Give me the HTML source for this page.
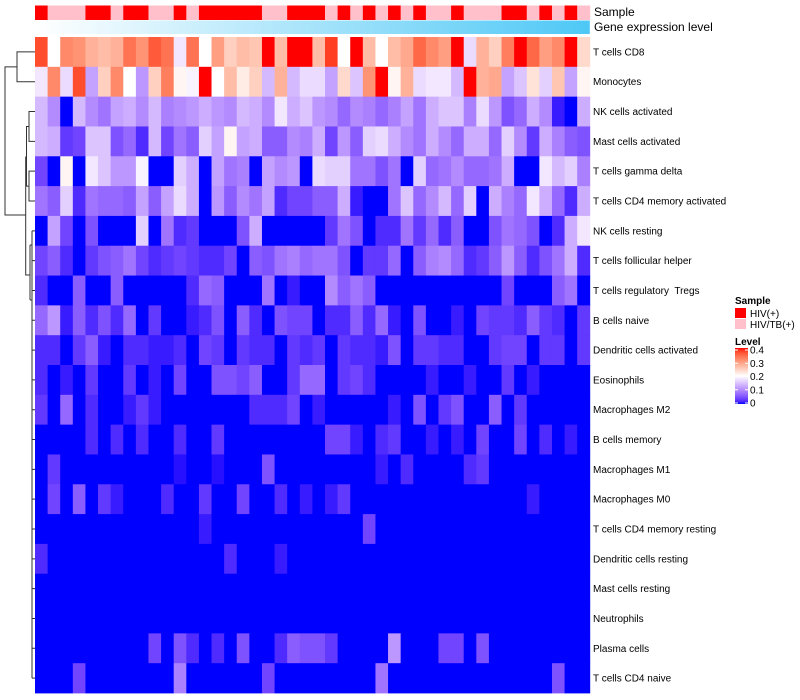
<!DOCTYPE html>
<html><head><meta charset="utf-8"><style>
body{margin:0;background:#fff;}
svg{display:block;font-family:"Liberation Sans",Arial,sans-serif;}
#labels text{white-space:pre;}
</style></head><body>
<svg id="chart" width="800" height="700" viewBox="0 0 800 700">
<defs>
<linearGradient id="geneGrad" x1="0" x2="1" y1="0" y2="0"><stop offset="0" stop-color="#ffffff"/><stop offset="1" stop-color="#4ec8f6"/></linearGradient>
<linearGradient id="levelGrad" x1="0" x2="0" y1="1" y2="0"></linearGradient>
</defs>
<g id="annot"></g>
<g id="cells"></g>
<g id="dendro" stroke="#333" stroke-width="1" fill="none"></g>
<g id="labels"></g>
<text x="594" y="16" font-size="12">Sample</text>
<text x="594" y="31" font-size="12">Gene expression level</text>
<g>
<text x="735" y="304" font-size="10" font-weight="bold">Sample</text>
<rect x="735" y="308" width="11" height="10" fill="#ff0000"/>
<text x="750" y="317" font-size="10">HIV(+)</text>
<rect x="735" y="319" width="11" height="10" fill="#ffc0cb"/>
<text x="750" y="328" font-size="10">HIV/TB(+)</text>
<text x="735" y="345" font-size="10" font-weight="bold">Level</text>
<rect x="735" y="348" width="13" height="56" fill="url(#levelGrad)"/>
<g id="levelTicks"></g>
</g>
</svg>
<script>
const rowNames=["T cells CD8","Monocytes","NK cells activated","Mast cells activated","T cells gamma delta","T cells CD4 memory activated","NK cells resting","T cells follicular helper","T cells regulatory  Tregs","B cells naive","Dendritic cells activated","Eosinophils","Macrophages M2","B cells memory","Macrophages M1","Macrophages M0","T cells CD4 memory resting","Dendritic cells resting","Mast cells resting","Neutrophils","Plasma cells","T cells CD4 naive"];
const sampleGroups="HTTTHHTHHTTHTHHHHHTTHHHTHTHTHTHTTHTTTHHTHTHT".split("");
const levelTicks=[0,0.1,0.2,0.3,0.4];
const r0=[0.37,0.2,0.32,0.31,0.28,0.27,0.28,0.34,0.31,0.36,0.34,0.18,0.34,0.2,0.3,0.25,0.27,0.26,0.4,0.27,0.4,0.4,0.27,0.38,0.2,0.4,0.27,0.2,0.27,0.29,0.35,0.32,0.3,0.4,0.17,0.28,0.25,0.33,0.4,0.35,0.3,0.32,0.4,0.24];
const r1=[0.18,0.32,0.17,0.37,0.12,0.25,0.32,0.2,0.11,0.25,0.33,0.21,0.19,0.4,0.2,0.27,0.22,0.25,0.14,0.28,0.14,0.17,0.17,0.12,0.24,0.15,0.31,0.4,0.21,0.28,0.17,0.18,0.18,0.14,0.4,0.28,0.29,0.12,0.15,0.23,0.16,0.26,0.12,0.21];
const r2=[0.14,0.1,0,0.14,0.1,0.08,0.12,0.13,0.1,0.14,0.09,0.1,0.11,0.13,0.11,0.1,0.14,0.13,0.1,0.18,0.13,0.15,0.11,0.1,0.07,0.1,0.09,0.07,0.09,0.12,0.08,0.13,0.15,0.15,0.09,0.17,0.11,0.05,0.07,0.13,0.1,0.01,0,0.13];
const r3=[0.14,0.13,0.03,0.04,0.15,0.15,0.05,0.07,0.02,0.14,0.04,0.08,0.06,0.16,0.12,0.21,0.12,0.13,0.06,0.06,0.1,0.09,0.13,0.04,0.11,0.06,0.16,0.17,0.13,0.1,0.08,0.13,0.1,0.07,0.13,0.13,0.07,0.16,0.1,0.03,0.13,0.09,0.06,0.05];
const r4=[0.04,0,0.21,0,0.18,0.15,0.11,0.11,0.19,0,0,0.16,0.13,0,0.12,0.08,0.09,0,0.12,0.1,0.11,0,0.17,0.16,0.16,0.08,0.08,0.05,0.08,0,0.16,0.07,0.08,0.1,0.07,0.07,0.08,0.13,0,0,0.18,0.14,0.16,0.09];
const r5=[0.08,0.06,0.16,0.02,0.08,0.07,0.07,0.06,0.12,0.06,0.12,0.17,0.13,0,0.11,0.06,0.1,0.08,0.12,0.02,0.04,0.04,0.06,0.06,0.13,0.01,0,0,0.08,0.15,0.07,0.1,0.14,0.07,0.16,0,0.13,0.09,0.07,0.18,0.13,0.07,0.02,0.13];
const r6=[0,0.12,0.04,0,0.05,0,0,0,0.16,0,0.08,0.02,0.03,0,0,0,0.05,0.13,0,0,0,0,0,0.03,0.08,0.05,0,0.02,0.02,0.08,0.03,0.07,0.02,0.06,0,0,0.05,0.08,0.07,0.05,0,0.02,0.13,0.18];
const r7=[0.04,0.06,0.02,0,0.03,0.05,0.06,0.08,0.04,0.02,0.03,0.04,0.03,0.02,0.02,0.04,0,0.06,0.05,0.08,0.09,0.07,0.08,0.08,0.05,0,0.03,0.03,0.07,0,0.06,0.09,0.1,0.07,0.02,0.03,0.06,0.11,0.06,0.02,0.05,0.08,0.13,0.02];
const r8=[0.02,0,0,0.06,0,0,0.06,0,0,0,0,0,0.02,0.07,0.06,0,0,0,0.08,0,0.01,0,0,0.1,0.06,0.08,0.06,0,0,0,0,0,0,0,0,0,0,0.04,0,0,0,0.06,0.08,0];
const r9=[0.07,0.11,0.01,0.06,0.02,0.05,0.02,0.07,0,0.03,0,0,0.01,0.02,0.05,0,0.06,0.02,0,0.05,0.04,0.04,0,0.02,0.02,0.06,0.02,0.07,0.01,0,0.05,0,0,0.01,0,0.04,0.03,0.03,0.02,0.06,0.03,0.02,0,0.03];
const r10=[0.02,0.02,0,0.03,0.06,0.01,0,0.02,0.02,0.01,0.01,0.02,0,0.04,0.03,0,0.03,0.02,0.02,0,0.03,0.02,0.03,0,0.03,0.02,0.02,0.01,0.05,0,0.03,0.03,0.02,0.02,0,0,0.03,0.04,0.04,0,0.03,0.03,0,0.03];
const r11=[0.02,0,0.01,0,0.03,0,0,0.03,0,0.01,0,0.04,0,0,0.05,0.05,0.04,0.06,0,0,0.03,0.07,0.07,0,0.03,0.04,0.02,0,0,0,0,0.01,0,0,0.01,0,0,0.03,0,0.01,0,0,0,0];
const r12=[0.03,0,0.07,0,0.02,0,0,0.01,0.03,0.01,0,0,0,0,0,0,0,0.02,0.02,0.02,0.04,0,0.01,0,0,0,0,0,0.01,0,0.05,0,0.03,0.05,0,0,0.06,0,0.03,0,0,0,0,0];
const r13=[0,0,0,0,0.02,0,0.02,0,0.02,0,0,0.02,0,0,0.03,0,0,0,0,0,0,0,0,0.04,0.04,0.01,0,0.02,0.03,0,0,0.01,0,0.01,0,0.04,0,0,0.04,0,0.02,0,0.01,0];
const r14=[0,0.03,0,0,0,0,0,0,0,0,0,0.005,0,0,0.005,0,0,0,0.05,0,0,0,0,0,0,0,0,0.01,0,0.02,0,0,0,0,0.02,0.03,0,0,0,0,0,0,0,0];
const r15=[0,0.04,0,0.06,0,0.03,0.01,0,0,0,0.02,0,0,0.03,0,0,0.04,0,0,0.02,0,0.01,0,0.01,0.03,0,0,0,0,0,0,0,0,0,0,0,0,0,0,0.01,0,0,0,0];
const r16=[0,0,0,0,0,0,0,0,0,0,0,0,0,0.01,0,0,0,0,0,0,0,0,0,0,0,0,0.04,0,0,0,0,0,0,0,0,0,0,0,0,0,0,0,0,0];
const r17=[0.02,0,0,0,0,0,0,0,0,0,0,0,0,0,0,0.02,0,0,0,0.01,0,0,0,0,0,0,0,0,0,0,0,0,0,0,0,0,0,0,0,0,0,0,0,0];
const r18=[0,0,0,0,0,0,0,0,0,0,0,0,0,0,0,0,0,0,0,0,0,0,0,0,0,0,0,0,0,0,0,0,0,0,0,0,0,0,0,0,0,0,0,0];
const r19=[0,0,0,0,0,0,0,0,0,0,0,0,0,0,0,0,0,0,0,0,0,0,0,0,0,0,0,0,0,0,0,0,0,0,0,0,0,0,0,0,0,0,0,0];
const r20=[0,0,0,0,0,0,0,0,0,0.04,0,0.05,0.02,0,0.02,0,0.05,0,0,0.02,0.06,0.05,0.05,0.03,0,0,0,0,0.11,0,0,0,0.04,0.04,0,0.05,0,0,0,0,0,0,0,0];
const r21=[0,0,0,0.04,0,0,0,0,0,0,0,0.09,0,0,0,0,0,0,0.04,0,0,0,0,0,0,0,0,0.08,0,0,0,0,0,0,0,0,0,0,0,0,0,0.05,0,0];
const matrix=[r0,r1,r2,r3,r4,r5,r6,r7,r8,r9,r10,r11,r12,r13,r14,r15,r16,r17,r18,r19,r20,r21];

const NS="http://www.w3.org/2000/svg";
const X0=35,X1=589.8,Y0=37,Y1=693;
const nCol=matrix[0].length,nRow=matrix.length;
const cw=(X1-X0)/nCol,rh=(Y1-Y0)/nRow;
const xPos=i=>X0+i*cw, yPos=j=>Y0+j*rh;

function toLin(c){c/=255;return c<=0.04045?c/12.92:Math.pow((c+0.055)/1.055,2.4);}
function fromLin(c){c=c<=0.0031308?12.92*c:1.055*Math.pow(c,1/2.4)-0.055;return Math.max(0,Math.min(255,Math.round(c*255)));}
function rgb2lab(r,g,b){r=toLin(r);g=toLin(g);b=toLin(b);
 let x=(0.4124*r+0.3576*g+0.1805*b)/0.95047,y=0.2126*r+0.7152*g+0.0722*b,z=(0.0193*r+0.1192*g+0.9505*b)/1.08883;
 const f=t=>t>0.008856?Math.cbrt(t):7.787*t+16/116;x=f(x);y=f(y);z=f(z);return [116*y-16,500*(x-y),200*(y-z)];}
function lab2rgb(L,a,bb){let y=(L+16)/116,x=a/500+y,z=y-bb/200;
 const fi=t=>t*t*t>0.008856?t*t*t:(t-16/116)/7.787;x=fi(x)*0.95047;y=fi(y);z=fi(z)*1.08883;
 const r=3.2406*x-1.5372*y-0.4986*z,g=-0.9689*x+1.8758*y+0.0415*z,b=0.0557*x-0.2040*y+1.0570*z;
 return "rgb("+fromLin(r)+","+fromLin(g)+","+fromLin(b)+")";}
const cBlue=rgb2lab(0,0,255),cWhite=rgb2lab(255,255,255),cRed=rgb2lab(255,0,0);
function colorOf(v){v=Math.max(0,Math.min(0.4,v));let a,b,t;
 if(v<=0.2){a=cBlue;b=cWhite;t=v/0.2;}else{a=cWhite;b=cRed;t=(v-0.2)/0.2;}
 return lab2rgb(a[0]+(b[0]-a[0])*t,a[1]+(b[1]-a[1])*t,a[2]+(b[2]-a[2])*t);}

const cells=document.getElementById("cells");
matrix.forEach((row,j)=>row.forEach((v,i)=>{
 const r=document.createElementNS(NS,"rect");
 r.setAttribute("x",xPos(i));r.setAttribute("y",yPos(j));
 r.setAttribute("width",cw+0.4);r.setAttribute("height",rh+0.4);
 r.setAttribute("fill",colorOf(v));
 
 
 cells.appendChild(r);
}));

const annot=document.getElementById("annot");
sampleGroups.forEach((g,i)=>{
 const r=document.createElementNS(NS,"rect");
 r.setAttribute("x",xPos(i));r.setAttribute("y",5.5);
 r.setAttribute("width",cw+0.4);r.setAttribute("height",14.5);
 r.setAttribute("fill",g==="H"?"#ff0000":"#ffc0cb");
 
 
 annot.appendChild(r);
});
const gb=document.createElementNS(NS,"rect");
gb.setAttribute("x",X0);gb.setAttribute("y",20.5);gb.setAttribute("width",X1-X0);gb.setAttribute("height",13.5);
gb.setAttribute("fill","url(#geneGrad)");


annot.appendChild(gb);

const labels=document.getElementById("labels");
rowNames.forEach((n,j)=>{
 const t=document.createElementNS(NS,"text");
 t.setAttribute("x",593);t.setAttribute("y",yPos(j)+rh/2+3.5);
 t.setAttribute("font-size","10");t.textContent=n;
 
 
 labels.appendChild(t);
});

const lg=document.getElementById("levelGrad");
for(let k=0;k<=20;k++){const v=0.4*k/20;const s=document.createElementNS(NS,"stop");
 s.setAttribute("offset",k/20);s.setAttribute("stop-color",colorOf(v));lg.appendChild(s);}
const lt=document.getElementById("levelTicks");
levelTicks.forEach(v=>{
 const y=403-v/0.4*53;
 const l=document.createElementNS(NS,"line");
 l.setAttribute("x1",735);l.setAttribute("x2",738);l.setAttribute("y1",y);l.setAttribute("y2",y);l.setAttribute("stroke","#fff");
 
 
 lt.appendChild(l);
 const l2=document.createElementNS(NS,"line");
 l2.setAttribute("x1",745);l2.setAttribute("x2",748);l2.setAttribute("y1",y);l2.setAttribute("y2",y);l2.setAttribute("stroke","#fff");
 
 
 lt.appendChild(l2);
 const t=document.createElementNS(NS,"text");
 t.setAttribute("x",750);t.setAttribute("y",y+3.5);t.setAttribute("font-size","10");t.textContent=String(v);
 
 
 lt.appendChild(t);
});

const dendro=document.getElementById("dendro");
const cy=j=>yPos(j)+rh/2;
let d="";
d+=`M35 ${cy(0)}H17V${cy(1)}H35 `;
d+=`M17 ${(cy(0)+cy(1))/2}H5V215H25.7 `;
d+=`M35 ${cy(2)}H29V${cy(3)}H35 M35 ${cy(4)}H29V${cy(5)}H35 `;
d+=`M29 ${(cy(2)+cy(3))/2}H26.5V${(cy(4)+cy(5))/2}H29 `;
d+=`M26.5 157H25.7V275H30 `;
d+=`M30 245V300 M30 245H32 M30 300H32 `;
d+=`M32 ${cy(6)}V${cy(21)} `;
for(let j=6;j<22;j++){d+=`M32 ${cy(j)}H35 `;}
const p=document.createElementNS(NS,"path");p.setAttribute("d",d);


dendro.appendChild(p);
</script>
</body></html>
